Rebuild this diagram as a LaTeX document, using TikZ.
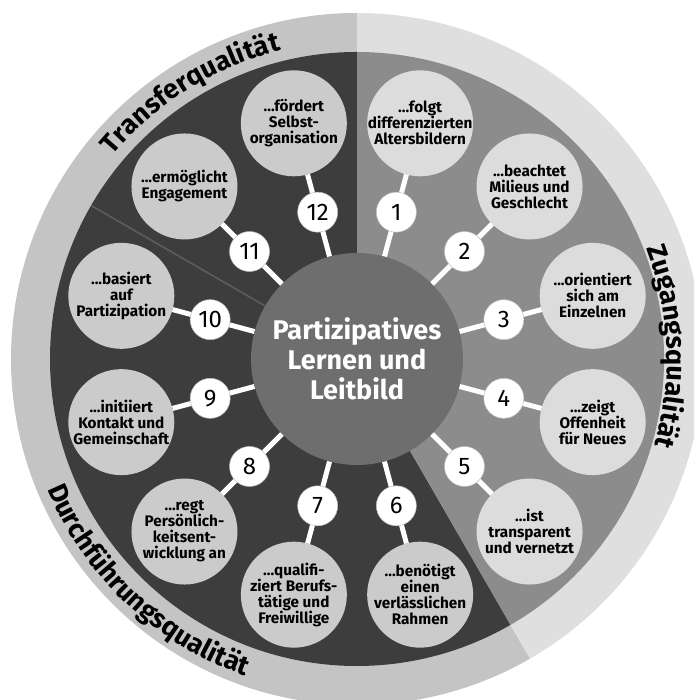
\documentclass[tikz,border=0pt]{standalone}
\usepackage{fontspec}
\setmainfont{Fira Sans}
\usetikzlibrary{decorations.text}
\definecolor{ringT}{HTML}{C4C4C4}
\definecolor{ringZ}{HTML}{DFDFDF}
\definecolor{sectD}{HTML}{3D3D3D}
\definecolor{sectM}{HTML}{8C8C8C}
\definecolor{bubD}{HTML}{CBCBCB}
\definecolor{bubM}{HTML}{DCDCDC}
\definecolor{ctrfill}{HTML}{6E6E6E}
\definecolor{sepc}{HTML}{5E5E5E}
\newcommand\ringlab{\fontsize{27pt}{30pt}\selectfont\bfseries}
\begin{document}
\begin{tikzpicture}[x=1pt,y=1pt,
  bubble/.style={circle, minimum size=106pt, inner sep=0pt, outer sep=0pt},
  btext/.style={align=center, font=\fontsize{15.3pt}{16pt}\selectfont\bfseries, text=black, inner sep=0pt},
  badge/.style={circle, fill=white, draw=black!25, line width=0.5pt, minimum size=40pt, inner sep=0pt, font=\fontsize{24pt}{24pt}\selectfont},
  conn/.style={draw=white, line width=5pt},
  ringtext/.style={decorate, decoration={text along path, text align=center, text={|\ringlab|#1}}}]
\clip (0,0) rectangle (694,700);
\coordinate (C) at (357,341);
% outer ring
\fill[ringT] (C) -- ([shift={(90:346)}]C) arc[start angle=90,end angle=300,radius=346] -- cycle;
\fill[ringZ] (C) -- ([shift={(-60:346)}]C) arc[start angle=-60,end angle=90,radius=346] -- cycle;
% inner sectors
\fill[sectD] (C) -- ([shift={(90:307)}]C) arc[start angle=90,end angle=300,radius=307] -- cycle;
\fill[sectM] (C) -- ([shift={(-60:307)}]C) arc[start angle=-60,end angle=90,radius=307] -- cycle;
\draw[sepc, line width=1.5pt] ([shift={(150:100)}]C) -- ([shift={(150:307)}]C);
% centre
\node[circle, fill=ctrfill, minimum size=212pt, inner sep=0pt, align=center, text=white,
  font=\fontsize{27pt}{30pt}\selectfont\bfseries] (ctr) at (C) {Partizipatives\\Lernen und\\Leitbild};
% bubbles
\node[bubble, fill=bubM] (b1) at ([shift={(75:244)}]C) {};
\node[bubble, fill=bubM] (b2) at ([shift={(45:244)}]C) {};
\node[bubble, fill=bubM] (b3) at ([shift={(15:244)}]C) {};
\node[bubble, fill=bubM] (b4) at ([shift={(-15:244)}]C) {};
\node[bubble, fill=bubM] (b5) at ([shift={(-45:244)}]C) {};
\node[bubble, fill=bubD] (b6) at ([shift={(-75:244)}]C) {};
\node[bubble, fill=bubD] (b7) at ([shift={(-105:244)}]C) {};
\node[bubble, fill=bubD] (b8) at ([shift={(-135:244)}]C) {};
\node[bubble, fill=bubD] (b9) at ([shift={(-165:244)}]C) {};
\node[bubble, fill=bubD] (b10) at ([shift={(165:244)}]C) {};
\node[bubble, fill=bubD] (b11) at ([shift={(135:244)}]C) {};
\node[bubble, fill=bubD] (b12) at ([shift={(105:244)}]C) {};
\node[btext] (t1) at (b1) {...folgt\\differenzierten\\Altersbildern};
\node[btext] (t2) at (b2) {...beachtet\\Milieus und\\Geschlecht};
\node[btext] (t3) at (b3) {...orientiert\\sich am\\Einzelnen};
\node[btext] (t4) at (b4) {...zeigt\\Offenheit\\für Neues};
\node[btext] (t5) at (b5) {...ist\\transparent\\und vernetzt};
\node[btext] (t6) at (b6) {...benötigt\\einen\\verlässlichen\\Rahmen};
\node[btext] (t7) at (b7) {...qualifi-\\ziert Berufs-\\tätige und\\Freiwillige};
\node[btext] (t8) at (b8) {...regt\\Persönlich-\\keitsent-\\wicklung an};
\node[btext] (t9) at (b9) {...initiiert\\Kontakt und\\Gemeinschaft};
\node[btext] (t10) at (b10) {...basiert\\auf\\Partizipation};
\node[btext] (t11) at (b11) {...ermöglicht\\Engagement};
\node[btext] (t12) at (b12) {...fördert\\Selbst-\\organisation};
% connectors
\foreach \i in {1,...,12} { \draw[conn] (ctr) -- (b\i); }
% badges
\node[badge] (n1) at ([shift={(75:152)}]C) {1};
\node[badge] (n2) at ([shift={(45:152)}]C) {2};
\node[badge] (n3) at ([shift={(15:152)}]C) {3};
\node[badge] (n4) at ([shift={(-15:152)}]C) {4};
\node[badge] (n5) at ([shift={(-45:152)}]C) {5};
\node[badge] (n6) at ([shift={(-75:152)}]C) {6};
\node[badge] (n7) at ([shift={(-105:152)}]C) {7};
\node[badge] (n8) at ([shift={(-135:152)}]C) {8};
\node[badge] (n9) at ([shift={(-165:152)}]C) {9};
\node[badge] (n10) at ([shift={(165:152)}]C) {10};
\node[badge] (n11) at ([shift={(135:152)}]C) {11};
\node[badge] (n12) at ([shift={(105:152)}]C) {12};
% ring labels
\path[ringtext=Transferqualität] ([shift={(162:318)}]C) arc[start angle=162,end angle=82,radius=318];
\path[ringtext=Zugangsqualität] ([shift={(42.3:310)}]C) arc[start angle=42.3,end angle=-37.7,radius=310];
\path[ringtext=Durchführungsqualität] ([shift={(186.7:336)}]C) arc[start angle=186.7,end angle=266.7,radius=336];
\end{tikzpicture}
\end{document}
